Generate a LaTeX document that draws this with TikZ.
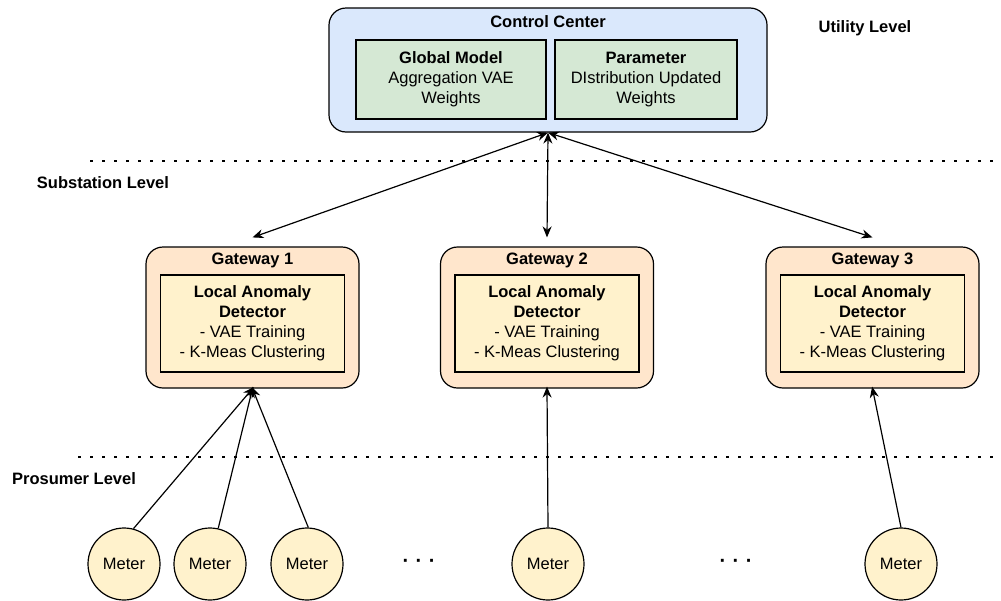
\documentclass[tikz,border=0pt]{standalone}
\usepackage{fontspec}
\setmainfont{Liberation Sans}
\usetikzlibrary{arrows.meta}

\definecolor{ccblue}{HTML}{DAE8FC}
\definecolor{modelgreen}{HTML}{D5E8D4}
\definecolor{gwpeach}{HTML}{FFE6CC}
\definecolor{detyellow}{HTML}{FFF2CC}

\tikzset{
  base/.style={font=\fontsize{16.5}{20}\selectfont, align=center, inner sep=0pt},
  panel/.style={base, draw=black, line width=1.2pt, rounded corners=17pt},
  ccbox/.style={panel, fill=ccblue, minimum width=438pt, minimum height=124pt},
  modelbox/.style={base, draw=black, line width=1.2pt, fill=modelgreen},
  gwbox/.style={panel, fill=gwpeach, minimum width=213pt, minimum height=141pt},
  detbox/.style={base, draw=black, line width=1.2pt, fill=detyellow, minimum width=184pt, minimum height=97pt},
  meterbox/.style={base, circle, draw=black, line width=1.2pt, fill=detyellow, minimum size=72pt},
  title/.style={base, font=\fontsize{16.5}{20}\selectfont\bfseries},
  levellabel/.style={title},
  ellipsis/.style={base, font=\fontsize{20}{20}\selectfont\bfseries},
  link/.style={line width=1.2pt, -{Stealth[length=11pt,width=9pt]}},
  duplex/.style={line width=1.2pt, {Stealth[length=11pt,width=9pt]}-{Stealth[length=11pt,width=9pt]}},
  levelsep/.style={line width=2.6pt, dash pattern=on 2.6pt off 9.4pt},
}

\begin{document}
\begin{tikzpicture}[x=1pt, y=-1pt]
\useasboundingbox (0,0) rectangle (1001,600);

% level separators
\coordinate (sepAstart) at (90,161);
\coordinate (sepAend) at (995,161);
\coordinate (sepBstart) at (78,457);
\coordinate (sepBend) at (995,457);
\draw[levelsep] (sepAstart) -- (sepAend);
\draw[levelsep] (sepBstart) -- (sepBend);

% level labels
\node[levellabel] (utility) at (865,28) {Utility Level};
\node[levellabel] (substation) at (103,183) {Substation Level};
\node[levellabel] (prosumer) at (74,479) {Prosumer Level};

% control center
\node[ccbox] (cc) at (548,70) {};
\node[title] (cctitle) at (548,22) {Control Center};
\node[modelbox, minimum width=190pt, minimum height=79pt] (global) at (451,79.5)
  {\textbf{Global Model}\\Aggregation VAE\\Weights};
\node[modelbox, minimum width=182pt, minimum height=79pt] (param) at (646,79.5)
  {\textbf{Parameter}\\DIstribution Updated\\Weights};

% gateways with their local detectors
\foreach \name/\cx/\num in {gwA/252.5/1, gwB/547/2, gwC/872.5/3}{
  \node[gwbox] (\name) at (\cx,317.5) {};
  \node[title] (\name title) at (\cx,260) {Gateway \num};
  \node[detbox] (\name det) at (\cx,323.5)
    {\textbf{Local Anomaly}\\\textbf{Detector}\\- VAE Training\\- K-Meas Clustering};
}

% meters
\node[meterbox] (mA) at (124,564) {Meter};
\node[meterbox] (mB) at (210,564) {Meter};
\node[meterbox] (mC) at (307,564) {Meter};
\node[meterbox] (mD) at (548,564) {Meter};
\node[meterbox] (mE) at (901,564) {Meter};

\node[ellipsis] (dotsL) at (419,563) {·\hspace{6.5pt}·\hspace{6.5pt}·};
\node[ellipsis] (dotsR) at (736,563) {·\hspace{6.5pt}·\hspace{6.5pt}·};

% control center <-> gateways (tips stop a little above each gateway)
\draw[duplex] (cc.south) -- ([yshift=9pt]gwA.north);
\draw[duplex] (cc.south) -- ([yshift=9pt]gwB.north);
\draw[duplex] (cc.south) -- ([yshift=9pt]gwC.north);

% meters -> gateways
\draw[link, shorten >=-2pt] (mA.75) -- (gwA.south);
\draw[link, shorten >=-2pt] (mB.77) -- (gwA.south);
\draw[link, shorten >=-2pt] (mC.88) -- (gwA.south);
\draw[link, shorten >=-2pt] (mD.north) -- (gwB.south);
\draw[link, shorten >=-2pt] (mE.north) -- (gwC.south);
\end{tikzpicture}
\end{document}
